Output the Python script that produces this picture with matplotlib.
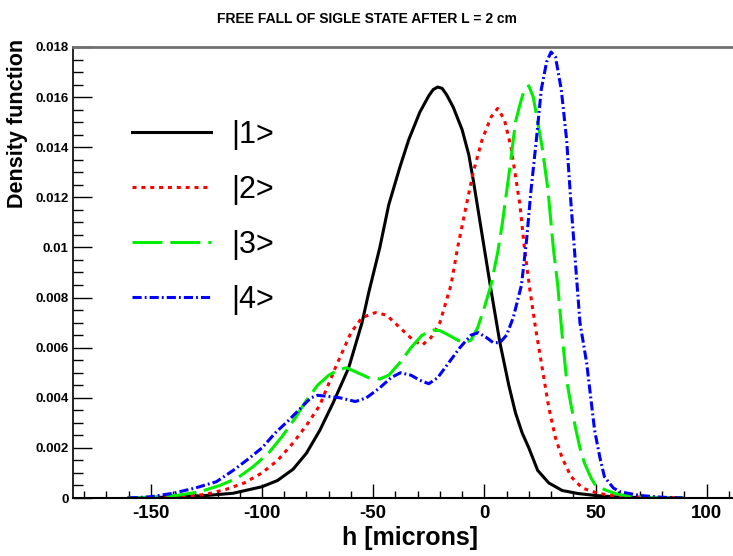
import matplotlib
matplotlib.use("Agg")
import matplotlib.pyplot as plt
from matplotlib.ticker import MultipleLocator
from matplotlib import font_manager

h1 = [-160, -140, -125, -113, -100, -93, -86, -80, -74, -68, -61, -55, -52, -47, -43, -38, -34, -29, -25,
      -23, -21, -19, -17, -14, -10, -7, -5, -1, 3, 7, 11, 14, 17, 20, 24, 29, 35, 42, 50, 60, 75, 89]
d1 = [0.0, 0.00004, 0.0001, 0.00019, 0.00045, 0.0007, 0.00115, 0.00179, 0.0027, 0.0038, 0.0052, 0.007,
      0.0082, 0.01, 0.0117, 0.0132, 0.0143, 0.0154, 0.01605, 0.0163, 0.0164, 0.01635, 0.0161, 0.0156, 0.0147,
      0.0137, 0.0127, 0.0105, 0.0083, 0.0062, 0.0045, 0.0034, 0.0026, 0.002, 0.0011, 0.0006, 0.0003,
      0.00018, 0.0001, 0.00004, 0.00001, 0.0]

h2 = [-160, -145, -134, -125, -116, -108, -100, -93, -86, -80, -74, -67, -60, -55, -49, -44, -38, -32, -28,
      -24, -20, -15, -12, -9, -5, -1, 3, 6, 9, 12, 16, 18, 20.5, 23, 26, 29, 32, 35, 39, 44, 51, 60, 75, 89]
d2 = [0.0, 0.00003, 0.00006, 0.00015, 0.00035, 0.0006, 0.001, 0.0015, 0.0022, 0.0029, 0.0037, 0.0052,
      0.0066, 0.0072, 0.0074, 0.0073, 0.0068, 0.0063, 0.0061, 0.0064, 0.007, 0.0085, 0.01, 0.0113, 0.013,
      0.0143, 0.0152, 0.01555, 0.0151, 0.014, 0.0117, 0.01, 0.0083, 0.0068, 0.0052, 0.0036, 0.0024, 0.0016,
      0.00085, 0.0004, 0.00019, 0.00007, 0.00002, 0.0]

h3 = [-160, -145, -137, -128, -119, -111, -104, -97, -91, -85, -80, -75, -70, -66, -62, -57, -52, -47, -43,
      -38, -33, -28, -23, -20, -16, -12, -9, -6, -3, 0, 3, 6, 8, 11.5, 14, 16, 18, 20, 22, 24, 26, 28.6, 31,
      33, 35, 37, 39, 41, 43, 45, 48, 50, 55, 60, 66, 75, 89]
d3 = [0.0, 0.00005, 0.00012, 0.00025, 0.0005, 0.0008, 0.00125, 0.0018, 0.00245, 0.0032, 0.0039, 0.0045,
      0.0049, 0.0051, 0.0052, 0.005, 0.0048, 0.00475, 0.0049, 0.0054, 0.006, 0.0065, 0.0067, 0.00668,
      0.0065, 0.0063, 0.0062, 0.0063, 0.0068, 0.0076, 0.0085, 0.0098, 0.0109, 0.0132, 0.015, 0.0157,
      0.0163, 0.01645, 0.016, 0.015, 0.014, 0.0123, 0.01, 0.0085, 0.0065, 0.0047, 0.0037, 0.0028, 0.002,
      0.0014, 0.0008, 0.0005, 0.0003, 0.00015, 0.00006, 0.00002, 0.0]

h4 = [-160, -150, -140, -130, -120.5, -113, -107, -100, -94, -88, -82.5, -78, -75, -70, -65, -58, -53, -47,
      -42, -37.7, -33, -29, -25, -21, -16, -11, -6, -2.7, 1, 4, 7, 10, 13, 16.7, 19, 21, 23.4, 25.6, 28, 30,
      32, 34.6, 37, 39, 41.3, 43, 46, 49.6, 52, 54, 58, 61, 70, 80, 89]
d4 = [0.0, 0.00005, 0.00019, 0.0004, 0.00065, 0.0011, 0.0015, 0.002, 0.0026, 0.0031, 0.0036, 0.004, 0.0041,
      0.00405, 0.004, 0.00385, 0.004, 0.0044, 0.0048, 0.005, 0.0049, 0.0047, 0.00456, 0.0048, 0.0054, 0.006,
      0.0065, 0.0066, 0.0064, 0.0062, 0.0062, 0.0065, 0.0072, 0.0085, 0.0103, 0.0123, 0.0143, 0.0163,
      0.0174, 0.0178, 0.0176, 0.0163, 0.0143, 0.0117, 0.009, 0.007, 0.0054, 0.0027, 0.0016, 0.00085,
      0.0004, 0.00025, 0.0001, 0.00003, 0.0]

labels = ["|1>", "|2>", "|3>", "|4>"]

names = {f.name for f in font_manager.fontManager.ttflist}
fam = "Liberation Sans Narrow" if "Liberation Sans Narrow" in names else "Liberation Sans"
plt.rcParams["font.family"] = ["Liberation Sans", "DejaVu Sans"]
plt.rcParams["axes.unicode_minus"] = False

fig = plt.figure(figsize=(7.33, 5.56), dpi=100)
ax = fig.add_axes([0.0996, 0.1043, 0.91, 0.8112])

lw = 2.2
ax.plot(h1, d1, color="black", lw=lw, label=labels[0])
ax.plot(h2, d2, color="#ff0000", lw=lw, dashes=(1.3, 1.6), dash_capstyle="butt", label=labels[1])
ax.plot(h3, d3, color="#00ee00", lw=lw, dashes=(9.8, 2.6), label=labels[2])
ax.plot(h4, d4, color="#0000ff", lw=lw, dashes=(3, 1, 0.6, 1), label=labels[3])

ax.set_xlim(-185, 115)
ax.set_ylim(0, 0.018)

ax.xaxis.set_major_locator(MultipleLocator(50))
ax.xaxis.set_minor_locator(MultipleLocator(10))
ax.yaxis.set_minor_locator(MultipleLocator(0.0005))
ax.set_yticks([0, 0.002, 0.004, 0.006, 0.008, 0.01, 0.012, 0.014, 0.016, 0.018])
ax.set_yticklabels(["0", "0.002", "0.004", "0.006", "0.008", "0.01", "0.012", "0.014", "0.016", "0.018"])

ax.tick_params(axis="x", which="major", direction="in", length=10, width=1, labelsize=13.5, pad=5)
ax.tick_params(axis="x", which="minor", direction="in", length=5, width=1)
ax.tick_params(axis="y", which="major", direction="in", length=14, width=1, labelsize=9.5, pad=3)
ax.tick_params(axis="y", which="minor", direction="in", length=7, width=1)
for t in ax.get_xticklabels() + ax.get_yticklabels():
    t.set_fontweight("bold")

ax.spines["right"].set_visible(False)
ax.spines["top"].set_color("#707070")
ax.spines["top"].set_linewidth(2)
ax.spines["left"].set_linewidth(1.2)
ax.spines["bottom"].set_linewidth(1.5)

ax.set_xlabel("h [microns]", fontsize=18, fontweight="bold")
ax.xaxis.set_label_coords(0.505, -0.063)
ax.set_ylabel("Density function", fontsize=15.5, fontweight="bold")
ax.yaxis.set_label_coords(-0.068, 0.83)

fig.text(0.5, 0.978, "FREE FALL OF SIGLE STATE AFTER L = 2 cm", ha="center", va="top",
         fontsize=10, fontweight="bold", family=[fam, "DejaVu Sans"])

ax.legend(loc="upper left", bbox_to_anchor=(0.047, 0.90), frameon=False, fontsize=22,
          handlelength=2.6, handletextpad=0.65, labelspacing=0.82)

fig.savefig("out.png", dpi=100)
